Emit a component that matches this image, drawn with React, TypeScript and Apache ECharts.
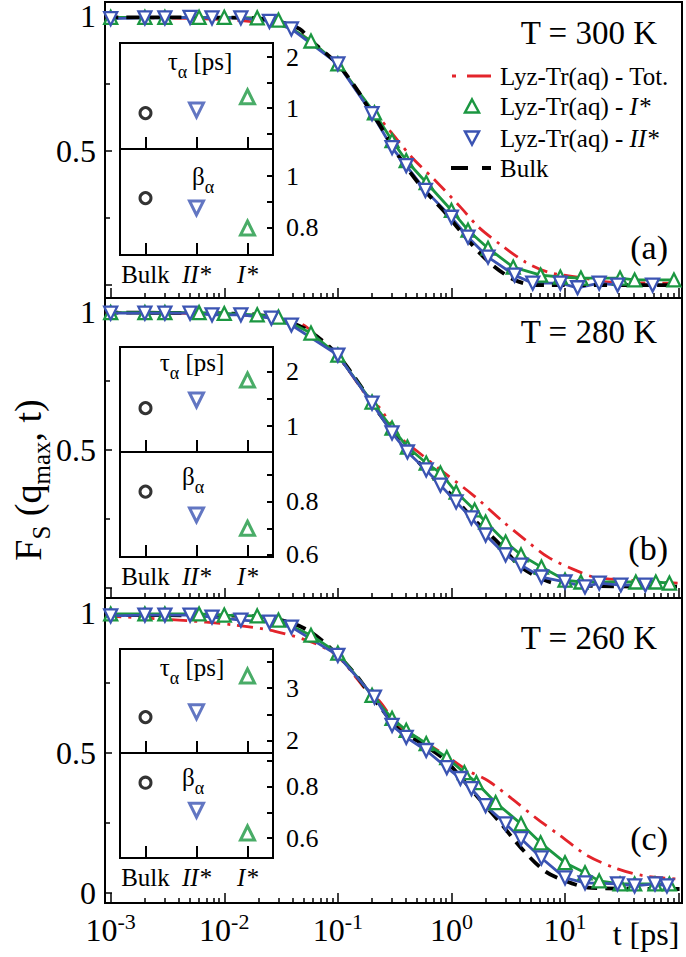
import React, { useEffect, useRef } from 'react';
import * as echarts from 'echarts';

const FONT = 'Liberation Serif';
const RED = '#e3242b';
const GREEN = '#1b9741';
const BLUE = '#3b54b3';
const INK = '#000000';

type Pt = [number, number];

// ---------- (a) T = 300 K : [t (ps), Fs(qmax,t)] ----------
const t300Tot: Pt[] = [
  [0.0009, 0.996], [0.006, 0.99], [0.0166, 0.98], [0.039, 0.955], [0.059, 0.9], [0.1, 0.82],
  [0.2, 0.64], [0.23, 0.622], [0.45, 0.474], [0.72, 0.389], [1.23, 0.285], [1.74, 0.215],
  [2.75, 0.148], [4.5, 0.085], [7.1, 0.048], [12.9, 0.03], [25, 0.011], [98, 0.007],
];
const t300I: Pt[] = [
  [0.001, 0.995], [0.002, 0.995], [0.003, 0.995], [0.006, 0.995], [0.01, 0.995], [0.0195, 0.993],
  [0.03, 0.985], [0.058, 0.907], [0.1, 0.822], [0.21, 0.64], [0.3, 0.537], [0.4, 0.463],
  [0.6, 0.381], [1.0, 0.278], [1.4, 0.204], [2.1, 0.137], [3.5, 0.067], [6.1, 0.037],
  [9.1, 0.03], [13.8, 0.026], [30.5, 0.026], [41, 0.019], [91, 0.019],
];
const t300II: Pt[] = [
  [0.001, 0.99], [0.002, 0.993], [0.003, 0.993], [0.005, 0.995], [0.0078, 0.993], [0.014, 0.993],
  [0.025, 0.98], [0.039, 0.952], [0.1, 0.822], [0.2, 0.637], [0.3, 0.511], [0.4, 0.444],
  [0.59, 0.352], [1.0, 0.252], [1.4, 0.178], [2.1, 0.104], [3.6, 0.037], [5.2, 0.007],
  [9.1, 0.007], [12.9, -0.01], [20, 0.007], [29, 0.0], [59, 0.0],
];
const t300Bulk: Pt[] = [
  [0.0009, 0.995], [0.0166, 0.993], [0.03, 0.98], [0.046, 0.952], [0.059, 0.907], [0.1, 0.82],
  [0.15, 0.722], [0.2, 0.637], [0.23, 0.6], [0.35, 0.474], [0.55, 0.363], [0.89, 0.267],
  [1.4, 0.167], [2.2, 0.081], [3.6, 0.019], [5.5, 0.0], [102, 0.0],
];

// ---------- (b) T = 280 K ----------
const t280Tot: Pt[] = [
  [0.0009, 0.998], [0.006, 0.995], [0.02, 0.985], [0.046, 0.96], [0.059, 0.93], [0.1, 0.84],
  [0.2, 0.67], [0.23, 0.656], [0.35, 0.549], [0.51, 0.493], [0.85, 0.42], [1.55, 0.337],
  [2.75, 0.246], [4.5, 0.174], [7.1, 0.112], [12.3, 0.065], [18, 0.04], [35.5, 0.029], [98, 0.018],
];
const t280I: Pt[] = [
  [0.001, 0.998], [0.002, 0.998], [0.003, 0.998], [0.006, 0.998], [0.01, 0.995], [0.0195, 0.99],
  [0.03, 0.982], [0.058, 0.924], [0.1, 0.844], [0.2, 0.674], [0.3, 0.58], [0.41, 0.511],
  [0.6, 0.453], [0.8, 0.417], [1.1, 0.348], [1.6, 0.283], [2.0, 0.239], [3.0, 0.167],
  [4.1, 0.12], [6.2, 0.076], [10, 0.029], [13.8, 0.022], [42, 0.022], [63, 0.022], [83, 0.018],
];
const t280II: Pt[] = [
  [0.001, 0.996], [0.002, 0.996], [0.003, 0.996], [0.005, 0.996], [0.0078, 0.99], [0.014, 0.99],
  [0.026, 0.978], [0.039, 0.953], [0.1, 0.844], [0.2, 0.67], [0.3, 0.562], [0.41, 0.493],
  [0.6, 0.428], [0.8, 0.373], [1.1, 0.312], [1.5, 0.254], [2.0, 0.192], [3.0, 0.12],
  [4.1, 0.083], [6.2, 0.04], [10, 0.022], [15, 0.004], [20, 0.018], [31, 0.011], [51, 0.011],
];
const t280Bulk: Pt[] = [
  [0.0009, 0.998], [0.0166, 0.993], [0.037, 0.965], [0.059, 0.925], [0.1, 0.844], [0.2, 0.672],
  [0.23, 0.634], [0.4, 0.507], [0.63, 0.417], [1.0, 0.337], [1.6, 0.246], [2.6, 0.163],
  [4.1, 0.076], [6.6, 0.029], [10, 0.011], [102, 0.005],
];

// ---------- (c) T = 260 K ----------
const t260Tot: Pt[] = [
  [0.0009, 0.99], [0.004, 0.975], [0.012, 0.958], [0.028, 0.935], [0.06, 0.895], [0.1, 0.845],
  [0.2, 0.7], [0.23, 0.688], [0.35, 0.591], [0.55, 0.545], [0.89, 0.491], [1.4, 0.437],
  [2.1, 0.401], [3.4, 0.337], [5.5, 0.269], [9.1, 0.204], [15.8, 0.133], [29, 0.086],
  [50, 0.061], [98, 0.05],
];
const t260I: Pt[] = [
  [0.001, 0.997], [0.002, 0.997], [0.003, 0.997], [0.006, 0.997], [0.01, 0.993], [0.0195, 0.99],
  [0.03, 0.975], [0.058, 0.921], [0.1, 0.857], [0.2, 0.706], [0.3, 0.624], [0.4, 0.581],
  [0.6, 0.534], [0.91, 0.484], [1.3, 0.43], [1.66, 0.394], [2.45, 0.323], [4.1, 0.247],
  [6.1, 0.179], [10, 0.108], [15, 0.072], [20, 0.043], [30.5, 0.032], [41, 0.032], [62, 0.032], [83, 0.032],
];
const t260II: Pt[] = [
  [0.001, 0.99], [0.002, 0.993], [0.003, 0.993], [0.005, 0.993], [0.0078, 0.986], [0.014, 0.975],
  [0.025, 0.968], [0.039, 0.95], [0.1, 0.849], [0.21, 0.7], [0.3, 0.599], [0.4, 0.556],
  [0.6, 0.509], [0.91, 0.448], [1.2, 0.409], [1.5, 0.373], [2.0, 0.312], [3.0, 0.247],
  [4.1, 0.194], [6.2, 0.125], [10, 0.054], [15, 0.036], [29, 0.032], [41, 0.025], [62, 0.032], [79, 0.025],
];
const t260Bulk: Pt[] = [
  [0.0009, 0.993], [0.0166, 0.99], [0.037, 0.968], [0.059, 0.93], [0.1, 0.85], [0.15, 0.77],
  [0.2, 0.7], [0.23, 0.67], [0.35, 0.581], [0.55, 0.534], [0.89, 0.473], [1.6, 0.355],
  [2.6, 0.258], [4.1, 0.161], [6.6, 0.079], [10, 0.043], [17, 0.018], [102, 0.014],
];

// ---------- insets ----------
const INSET_CATEGORIES = ['Bulk', 'II*', 'I*'];
const tau300 = [0.9, 0.96, 1.22];
const beta300 = [0.915, 0.877, 0.8];
const tau280 = [1.33, 1.48, 1.85];
const beta280 = [0.838, 0.75, 0.7];
const tau260 = [2.45, 2.55, 3.23];
const beta260 = [0.815, 0.708, 0.62];

const X_MAJOR_EXP = [-3, -2, -1, 0, 1, 2];
const X_LABEL_EXP = [-3, -2, -1, 0, 1];
const TEMPS = ['T = 300 K', 'T = 280 K', 'T = 260 K'];
const PANEL_TAGS = ['(a)', '(b)', '(c)'];
const LEGEND_NAMES = ['Lyz-Tr(aq) - Tot.', 'Lyz-Tr(aq) - I*', 'Lyz-Tr(aq) - II*', 'Bulk'];

const PANEL_DATA = [
  { tot: t300Tot, I: t300I, II: t300II, bulk: t300Bulk, tau: tau300, beta: beta300 },
  { tot: t280Tot, I: t280I, II: t280II, bulk: t280Bulk, tau: tau280, beta: beta280 },
  { tot: t260Tot, I: t260I, II: t260II, bulk: t260Bulk, tau: tau260, beta: beta260 },
];

const LAYOUT = [
  {
    top: 1, height: 297, yMin: -0.048, yMax: 1.052, yLabels: [0.5, 1], showX: false, bulkOnTop: true,
    tauGrid: [43, 106], betaGrid: [149, 106], tauRange: [0.196, 2.275], tauTicks: [0.5, 1, 1.5, 2], tauLabels: [1, 2],
    betaRange: [0.696, 1.104], betaTicks: [0.8, 0.9, 1], betaLabels: [0.8, 1],
    tempY: 33, tagY: 247, tauTitle: [200, 61], betaTitle: [203, 176],
  },
  {
    top: 298, height: 300, yMin: -0.036, yMax: 1.051, yLabels: [0.5, 1], showX: false, bulkOnTop: false,
    tauGrid: [347, 105], betaGrid: [452, 105], tauRange: [0.52, 2.46], tauTicks: [1, 1.5, 2], tauLabels: [1, 2],
    betaRange: [0.592, 0.987], betaTicks: [0.6, 0.7, 0.8, 0.9], betaLabels: [0.6, 0.8],
    tempY: 332, tagY: 548, tauTitle: [192, 362], betaTitle: [193, 476],
  },
  {
    top: 598, height: 305, yMin: -0.036, yMax: 1.054, yLabels: [0, 0.5, 1], showX: true, bulkOnTop: false,
    tauGrid: [649, 104], betaGrid: [753, 105], tauRange: [1.77, 3.74], tauTicks: [2, 2.5, 3, 3.5], tauLabels: [2, 3],
    betaRange: [0.523, 0.93], betaTicks: [0.6, 0.7, 0.8, 0.9], betaLabels: [0.6, 0.8],
    tempY: 638, tagY: 838, tauTitle: [192, 667], betaTitle: [193, 777],
  },
];

const X_MIN = -3.05;
const X_MAX = 2.03;

const toLog = (arr: Pt[]) => arr.map(([t, f]) => [Math.log10(t), f]);

function buildOption() {
  const grid: any[] = [];
  const xAxis: any[] = [];
  const yAxis: any[] = [];
  const series: any[] = [];
  const graphic: any[] = [];

  const minorX: number[] = [];
  for (let n = -3; n <= 1; n++) for (let k = 2; k <= 9; k++) minorX.push(n + Math.log10(k));

  const tickStyle = { color: INK, width: 1.5 };
  const noLine = { show: false, onZero: false };

  LAYOUT.forEach((L, i) => {
    const D = PANEL_DATA[i];
    const gi = grid.length;
    grid.push({ left: 105, width: 577, top: L.top, height: L.height, show: true, borderColor: INK, borderWidth: 2, backgroundColor: 'transparent' });

    const xi = xAxis.length;
    xAxis.push({
      type: 'value', gridIndex: gi, min: X_MIN, max: X_MAX, position: 'bottom',
      axisLine: noLine, splitLine: { show: false },
      axisTick: { show: true, inside: true, length: 10, customValues: X_MAJOR_EXP, lineStyle: tickStyle },
      axisLabel: L.showX
        ? {
            show: true, customValues: X_LABEL_EXP, margin: 7, color: INK,
            formatter: (v: number) => `{b|10}{s|${v}}`,
            rich: {
              b: { fontSize: 32, fontFamily: FONT, color: INK, lineHeight: 40 },
              s: { fontSize: 22, fontFamily: FONT, color: INK, lineHeight: 16, verticalAlign: 'top' },
            },
          }
        : { show: false },
    });
    xAxis.push({
      type: 'value', gridIndex: gi, min: X_MIN, max: X_MAX, position: 'bottom',
      axisLine: noLine, splitLine: { show: false }, axisLabel: { show: false },
      axisTick: { show: true, inside: true, length: 5, customValues: minorX, lineStyle: tickStyle },
    });

    const yi = yAxis.length;
    yAxis.push({
      type: 'value', gridIndex: gi, min: L.yMin, max: L.yMax, position: 'left',
      axisLine: noLine, splitLine: { show: false },
      axisTick: { show: true, inside: true, length: 7, customValues: [0, 0.5, 1], lineStyle: tickStyle },
      axisLabel: { show: true, customValues: L.yLabels, margin: 9, color: INK, fontSize: 32, lineHeight: 26, fontFamily: FONT, formatter: (v: number) => String(v) },
    });
    yAxis.push({
      type: 'value', gridIndex: gi, min: L.yMin, max: L.yMax, position: 'left',
      axisLine: noLine, splitLine: { show: false }, axisLabel: { show: false },
      axisTick: { show: true, inside: true, length: 5, customValues: [0.25, 0.75], lineStyle: tickStyle },
    });

    const base = { xAxisIndex: xi, yAxisIndex: yi, silent: true, clip: true, animation: false };
    const sTot = {
      ...base, type: 'line', name: 'Tot', data: toLog(D.tot), showSymbol: false, smooth: 0.3,
      lineStyle: { color: RED, width: 2.8, type: [16, 7, 3, 7] }, itemStyle: { color: RED },
    };
    const sBulk = {
      ...base, type: 'line', name: 'Bulk', data: toLog(D.bulk), showSymbol: false, smooth: 0.3,
      lineStyle: { color: INK, width: 3.8, type: [13, 8] }, itemStyle: { color: INK },
    };
    const sI = {
      ...base, type: 'line', name: 'I', data: toLog(D.I), symbol: 'triangle', symbolSize: 13, showSymbol: true, showAllSymbol: true,
      lineStyle: { color: GREEN, width: 2.8 }, itemStyle: { color: '#fff', borderColor: GREEN, borderWidth: 2.3 },
    };
    const sII = {
      ...base, type: 'line', name: 'II', data: toLog(D.II), symbol: 'triangle', symbolRotate: 180, symbolSize: 13, showSymbol: true, showAllSymbol: true,
      lineStyle: { color: BLUE, width: 2.8 }, itemStyle: { color: '#fff', borderColor: BLUE, borderWidth: 2.3 },
    };
    if (L.bulkOnTop) series.push(sTot, sI, sII, sBulk);
    else series.push(sTot, sBulk, sI, sII);

    // insets
    const insets = [
      { g: L.tauGrid, range: L.tauRange, ticks: L.tauTicks, labels: L.tauLabels, vals: D.tau, showCat: false },
      { g: L.betaGrid, range: L.betaRange, ticks: L.betaTicks, labels: L.betaLabels, vals: D.beta, showCat: true },
    ];
    insets.forEach((ins) => {
      const ig = grid.length;
      grid.push({ left: 120, width: 153, top: ins.g[0], height: ins.g[1], show: true, borderColor: INK, borderWidth: 2, backgroundColor: '#fff', z: 3 });
      const ix = xAxis.length;
      xAxis.push({
        type: 'category', gridIndex: ig, data: INSET_CATEGORIES, boundaryGap: true, z: 4, position: 'bottom',
        axisLine: noLine, splitLine: { show: false },
        axisTick: { show: true, inside: true, length: 12, alignWithLabel: true, interval: 0, lineStyle: { color: INK, width: 2 } },
        axisLabel: ins.showCat
          ? {
              show: true, interval: 0, margin: 7, color: INK,
              formatter: (v: string) => (v === 'Bulk' ? `{n|${v}}` : `{i|${v}}`),
              rich: {
                n: { fontSize: 25, fontFamily: FONT, color: INK },
                i: { fontSize: 25, fontFamily: FONT, color: INK, fontStyle: 'italic' },
              },
            }
          : { show: false },
      });
      const iy = yAxis.length;
      yAxis.push({
        type: 'value', gridIndex: ig, position: 'right', min: ins.range[0], max: ins.range[1], z: 4,
        axisLine: noLine, splitLine: { show: false },
        axisTick: { show: true, inside: true, length: 6, customValues: ins.ticks, lineStyle: { color: INK, width: 2 } },
        axisLabel: { show: true, customValues: ins.labels, margin: 13, color: INK, fontSize: 26, fontFamily: FONT, formatter: (v: number) => String(v) },
      });
      series.push({
        type: 'scatter', xAxisIndex: ix, yAxisIndex: iy, silent: true, z: 5,
        data: ins.vals.map((v, j) => {
          if (j === 0) return { value: [INSET_CATEGORIES[j], v], symbol: 'circle', symbolSize: 11, itemStyle: { color: '#fff', borderColor: INK, borderWidth: 3 } };
          if (j === 1) return { value: [INSET_CATEGORIES[j], v], symbol: 'triangle', symbolRotate: 180, symbolSize: 14, itemStyle: { color: '#fff', borderColor: BLUE, borderWidth: 3 } };
          return { value: [INSET_CATEGORIES[j], v], symbol: 'triangle', symbolSize: 14, itemStyle: { color: '#fff', borderColor: GREEN, borderWidth: 3 } };
        }),
      });
    });

    // texts
    graphic.push({ type: 'text', x: 657, y: L.tempY, z: 10, style: { text: TEMPS[i], fontSize: 33, fontFamily: FONT, fill: INK, align: 'right', verticalAlign: 'middle' } });
    graphic.push({ type: 'text', x: 668, y: L.tagY, z: 10, style: { text: PANEL_TAGS[i], fontSize: 34, fontFamily: FONT, fill: INK, align: 'right', verticalAlign: 'middle' } });
    const subRich = {
      a: { fontSize: 25, fontFamily: FONT, fill: INK, lineHeight: 40 },
      s: { fontSize: 18, fontFamily: FONT, fill: INK, lineHeight: 17, verticalAlign: 'bottom' },
    };
    graphic.push({ type: 'text', x: L.tauTitle[0], y: L.tauTitle[1], z: 10, style: { text: '{a|τ}{s|α}{a| [ps]}', rich: subRich, align: 'center', verticalAlign: 'middle' } });
    graphic.push({ type: 'text', x: L.betaTitle[0], y: L.betaTitle[1], z: 10, style: { text: '{a|β}{s|α}', rich: subRich, align: 'center', verticalAlign: 'middle' } });
  });

  // legend of panel (a)
  const legY = [76, 106, 138, 168];
  graphic.push({ type: 'line', z: 10, shape: { x1: 452, y1: legY[0], x2: 491, y2: legY[0] }, style: { stroke: RED, lineWidth: 2.8, lineDash: [4, 11, 24, 40] } });
  graphic.push({ type: 'polygon', z: 10, shape: { points: [[472, legY[1] - 6.5], [479, legY[1] + 6.5], [465, legY[1] + 6.5]] }, style: { fill: '#fff', stroke: GREEN, lineWidth: 2.5 } });
  graphic.push({ type: 'polygon', z: 10, shape: { points: [[465, legY[2] - 6.5], [479, legY[2] - 6.5], [472, legY[2] + 6.5]] }, style: { fill: '#fff', stroke: BLUE, lineWidth: 2.5 } });
  graphic.push({ type: 'line', z: 10, shape: { x1: 451, y1: legY[3], x2: 491, y2: legY[3] }, style: { stroke: INK, lineWidth: 3.8, lineDash: [17, 14] } });
  const legRich = {
    n: { fontSize: 25, fontFamily: FONT, fill: INK },
    i: { fontSize: 25, fontFamily: FONT, fill: INK, fontStyle: 'italic' },
  };
  const legTexts = [
    `{n|${LEGEND_NAMES[0]}}`,
    `{n|Lyz-Tr(aq) - }{i|I*}`,
    `{n|Lyz-Tr(aq) - }{i|II*}`,
    `{n|${LEGEND_NAMES[3]}}`,
  ];
  legTexts.forEach((t, k) => {
    graphic.push({ type: 'text', x: 500, y: legY[k], z: 10, style: { text: t, rich: legRich, align: 'left', verticalAlign: 'middle' } });
  });

  // axis titles
  graphic.push({
    type: 'text', x: 28, y: 480, rotation: Math.PI / 2, z: 10,
    style: {
      text: '{a|F}{s|S}{a| (q}{s|max}{a|, t)}',
      rich: {
        a: { fontSize: 38, fontFamily: FONT, fill: INK, lineHeight: 52 },
        s: { fontSize: 25, fontFamily: FONT, fill: INK, lineHeight: 25, verticalAlign: 'bottom' },
      },
      align: 'center', verticalAlign: 'middle',
    },
  });
  graphic.push({ type: 'text', x: 646, y: 934, z: 10, style: { text: 't [ps]', fontSize: 32, fontFamily: FONT, fill: INK, align: 'center', verticalAlign: 'middle' } });

  return { animation: false, backgroundColor: '#fff', textStyle: { fontFamily: FONT }, grid, xAxis, yAxis, series, graphic };
}

export default function App() {
  const ref = useRef<HTMLDivElement>(null);
  useEffect(() => {
    if (!ref.current) return;
    const chart = echarts.init(ref.current, null, { renderer: 'svg' });
    chart.setOption(buildOption() as any);
    return () => chart.dispose();
  }, []);
  return <div ref={ref} style={{ position: 'fixed', left: 0, top: 0, width: 686, height: 957, background: '#fff' }} />;
}
